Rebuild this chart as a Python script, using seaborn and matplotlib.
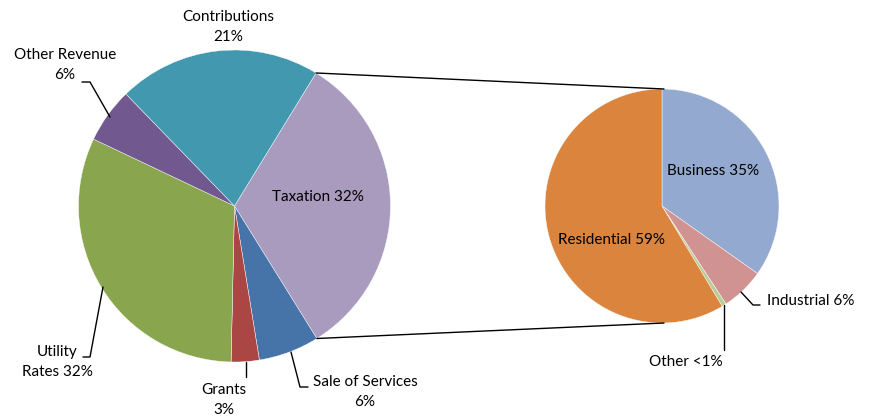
import matplotlib
matplotlib.use("Agg")
import matplotlib.pyplot as plt
import seaborn as sns
import numpy as np

# ---- data ----
main_labels = ["Taxation", "Sale of Services", "Grants", "Utility Rates", "Other Revenue", "Contributions"]
main_values = [32.4, 6.3, 2.9, 31.7, 5.7, 21.0]
main_colors = ["#A99BBD", "#4673A8", "#AA4644", "#89A54E", "#71588F", "#4198AF"]

sub_labels = ["Business", "Industrial", "Other", "Residential"]
sub_values = [34.8, 6.0, 0.6, 58.6]
sub_colors = ["#93A9CF", "#D19392", "#B9CD96", "#DB843D"]

sns.set_theme(style="white")
plt.rcParams["font.family"] = ["Lato", "DejaVu Sans"]

W, H = 874, 418
fig = plt.figure(figsize=(W / 100, H / 100), dpi=100)
ax = fig.add_axes([0, 0, 1, 1])

def Y(y):
    return H - y

c1 = (234.5, Y(206)); r1 = 156
c2 = (662, Y(206)); r2 = 117
start1 = 58.5

ax.pie(main_values, colors=main_colors, startangle=start1, counterclock=False,
       center=c1, radius=r1, frame=True,
       wedgeprops=dict(edgecolor="white", linewidth=0.3))
ax.pie(sub_values, colors=sub_colors, startangle=90, counterclock=False,
       center=c2, radius=r2, frame=True,
       wedgeprops=dict(edgecolor="white", linewidth=0.3))
ax.set_xlim(0, W)
ax.set_ylim(0, H)
ax.set_aspect("equal")
ax.axis("off")

# connector lines from taxation slice edges to the secondary pie
a_top = np.deg2rad(start1)
a_bot = np.deg2rad(start1 - main_values[0] / 100 * 360)
p1 = (c1[0] + r1 * np.cos(a_top), c1[1] + r1 * np.sin(a_top))
p2 = (c1[0] + r1 * np.cos(a_bot), c1[1] + r1 * np.sin(a_bot))
q1 = (c2[0] + 2, c2[1] + r2)
q2 = (c2[0] + 2, c2[1] - r2)
ax.plot([p1[0], q1[0]], [p1[1], q1[1]], color="black", lw=1.0)
ax.plot([p2[0], q2[0]], [p2[1], q2[1]], color="black", lw=1.0)

fs = 11
tk = dict(fontsize=fs, color="black", ha="center", va="center", linespacing=1.55)

def label(x, y, s, **kw):
    d = dict(tk); d.update(kw)
    ax.text(x, Y(y), s, **d)

def leader(pts):
    xs = [p[0] for p in pts]; ys = [Y(p[1]) for p in pts]
    ax.plot(xs, ys, color="black", lw=1.0)

label(228, 27, "Contributions\n21%")
label(65, 65, "Other Revenue\n6%")
leader([(82, 82), (90, 82), (110, 117)])
label(57, 362, "Utility\nRates 32%")
leader([(83, 357), (90, 357), (103, 287)])
label(224, 400, "Grants\n3%")
leader([(246, 362), (246, 377)])
label(365, 392, "Sale of Services\n6%")
leader([(291, 352), (300, 387), (308, 387)])
label(318, 197, "Taxation 32%")

label(713, 171, "Business 35%")
label(612, 240, "Residential 59%")
label(811, 301, "Industrial 6%")
leader([(741, 292), (753, 305), (760, 305)])
label(686, 362, "Other <1%")
leader([(724, 305), (724, 350)])

fig.savefig("out.png", dpi=100)
